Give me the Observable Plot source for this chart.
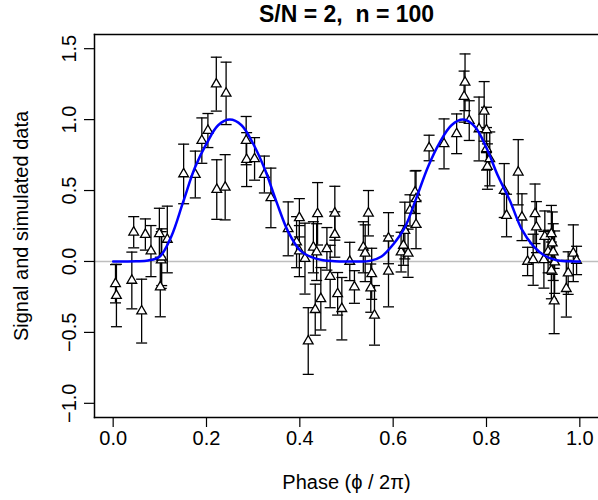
<!DOCTYPE html>
<html>
<head>
<meta charset="utf-8">
<script src="https://cdn.jsdelivr.net/npm/d3@7"></script>
<script src="https://cdn.jsdelivr.net/npm/@observablehq/plot@0.6"></script>
<style>
  html, body { margin: 0; padding: 0; background: white; }
</style>
</head>
<body>
<div id="chart"></div>
<script>
// Simulated data: phase, value, error bar half-length
const phase = [0.005,0.007,0.040,0.044,0.061,0.069,0.081,0.099,0.101,0.103,0.104,0.116,0.151,0.176,0.190,0.203,0.221,0.222,0.240,0.242,0.285,0.286,0.303,0.324,0.338,0.375,0.393,0.399,0.399,0.411,0.418,0.429,0.433,0.436,0.438,0.445,0.458,0.465,0.475,0.475,0.481,0.490,0.507,0.517,0.536,0.540,0.547,0.552,0.554,0.560,0.590,0.590,0.617,0.622,0.625,0.632,0.636,0.647,0.649,0.649,0.677,0.709,0.736,0.752,0.754,0.763,0.784,0.795,0.800,0.800,0.802,0.807,0.838,0.843,0.868,0.876,0.888,0.900,0.904,0.907,0.923,0.925,0.932,0.939,0.939,0.941,0.943,0.945,0.946,0.971,0.975,0.986,0.993];
const value = [-0.157,-0.24,-0.134,0.206,-0.35,0.19,0.073,0.195,-0.18,0.01,0.03,0.155,0.617,0.613,0.852,0.923,1.25,0.507,0.523,1.185,0.852,0.718,0.723,0.613,0.448,0.23,0.136,0.308,0.073,0.02,-0.561,0.10,-0.34,0.066,0.336,-0.263,0.089,-0.106,0.34,0.19,-0.228,-0.333,0.0,-0.18,0.10,0.058,0.34,-0.188,-0.087,-0.38,0.164,-0.07,0.066,0.113,0.218,0.058,0.36,0.488,0.441,0.26,0.80,0.829,0.90,1.162,1.263,0.993,0.934,1.058,0.927,0.794,0.669,0.723,0.50,0.324,0.629,0.312,0.0,0.012,0.336,0.242,0.012,0.176,0.07,0.195,-0.063,0.129,0.066,-0.279,-0.005,-0.192,-0.082,0.058,0.007];
const errorBar = [0.135,0.22,0.20,0.11,0.225,0.11,0.18,0.18,0.21,0.20,0.20,0.235,0.21,0.165,0.16,0.12,0.19,0.21,0.23,0.22,0.17,0.19,0.15,0.13,0.21,0.19,0.18,0.135,0.18,0.25,0.235,0.18,0.18,0.20,0.22,0.22,0.15,0.22,0.19,0.16,0.15,0.22,0.135,0.115,0.18,0.20,0.16,0.17,0.18,0.21,0.18,0.25,0.14,0.14,0.20,0.17,0.11,0.15,0.20,0.17,0.09,0.176,0.14,0.18,0.20,0.14,0.225,0.21,0.16,0.15,0.16,0.19,0.19,0.15,0.23,0.165,0.10,0.18,0.21,0.18,0.20,0.18,0.15,0.20,0.20,0.22,0.20,0.23,0.22,0.20,0.15,0.20,0.10];

// True signal curve
const signalPhase = [0,0.025,0.05,0.075,0.1,0.125,0.15,0.175,0.2,0.225,0.25,0.275,0.3,0.325,0.35,0.375,0.4,0.425,0.45,0.475,0.5,0.525,0.55,0.575,0.6,0.625,0.65,0.675,0.7,0.725,0.75,0.775,0.8,0.825,0.85,0.875,0.9,0.925,0.95,0.975,1.0];
const signalValue = [0,0,0.001,0.007,0.035,0.18,0.42,0.66,0.83,0.96,1.0,0.96,0.83,0.65,0.42,0.21,0.08,0.03,0.008,0.002,0,0,0.004,0.035,0.12,0.24,0.45,0.67,0.84,0.96,1.0,0.95,0.8,0.6,0.43,0.23,0.11,0.04,0.008,0.001,0];

const xTicks = [0, 0.2, 0.4, 0.6, 0.8, 1.0];
const yTicks = [-1.0, -0.5, 0.0, 0.5, 1.0, 1.5];
const titleText = "S/N = 2,  n = 100";
const xLabel = "Phase (\u03D5 / 2\u03C0)";
const yLabel = "Signal and simulated data";

const data = phase.map((p, i) => ({x: p, y: value[i], e: errorBar[i]}));
const curve = signalPhase.map((p, i) => ({x: p, y: signalValue[i]}));

const capSymbol = {
  draw(context) {
    context.moveTo(-5.5, 0);
    context.lineTo(5.5, 0);
  }
};
const fmt = d3.format(".1f");

const chart = Plot.plot({
  width: 598,
  height: 500,
  marginTop: 34,
  marginBottom: 83,
  marginLeft: 94,
  marginRight: 0,
  x: {domain: [-0.04, 1.04]},
  y: {domain: [-1.1, 1.6]},
  style: {fontFamily: "'Liberation Sans', Arial, Helvetica, sans-serif", background: "white", color: "black", overflow: "visible"},
  marks: [
    Plot.ruleY([0], {stroke: "#bebebe", strokeWidth: 1.5}),
    Plot.ruleX(data, {x: "x", y1: d => d.y - d.e, y2: d => d.y + d.e, stroke: "black", strokeWidth: 1.3}),
    Plot.dot(data, {x: "x", y: d => d.y + d.e, symbol: capSymbol, r: 3, stroke: "black", strokeWidth: 1.3, fill: "none"}),
    Plot.dot(data, {x: "x", y: d => d.y - d.e, symbol: capSymbol, r: 3, stroke: "black", strokeWidth: 1.3, fill: "none"}),
    Plot.dot(data, {x: "x", y: "y", symbol: "triangle", r: 3.6, fill: "white", stroke: "black", strokeWidth: 1.3}),
    Plot.line(curve, {x: "x", y: "y", stroke: "#0000ff", strokeWidth: 2.5, curve: "catmull-rom"}),
    Plot.frame({anchor: "top", stroke: "black", strokeWidth: 1.5}),
    Plot.frame({anchor: "bottom", stroke: "black", strokeWidth: 1.5}),
    Plot.frame({anchor: "left", stroke: "black", strokeWidth: 1.5}),
    Plot.axisX(xTicks, {tickSize: 10, tickPadding: 3, tickFormat: fmt, fontSize: 20, label: null, strokeWidth: 1.2}),
    Plot.axisY(yTicks, {tickSize: 10, tickFormat: () => "", label: null, strokeWidth: 1.2}),
    Plot.text(yTicks, {y: d => d, text: d => fmt(d), frameAnchor: "left", textAnchor: "middle", lineAnchor: "middle", dx: -25, rotate: -90, fontSize: 20}),
    Plot.text([titleText], {text: d => d, frameAnchor: "top", textAnchor: "middle", lineAnchor: "middle", dy: -20, fontSize: 23, fontWeight: "bold"}),
    Plot.text([xLabel], {text: d => d, frameAnchor: "bottom", textAnchor: "middle", lineAnchor: "middle", dy: 65, fontSize: 20}),
    Plot.text([yLabel], {text: d => d, frameAnchor: "left", textAnchor: "middle", lineAnchor: "middle", dx: -73, rotate: -90, fontSize: 20})
  ]
});
document.getElementById("chart").appendChild(chart);
</script>
</body>
</html>
